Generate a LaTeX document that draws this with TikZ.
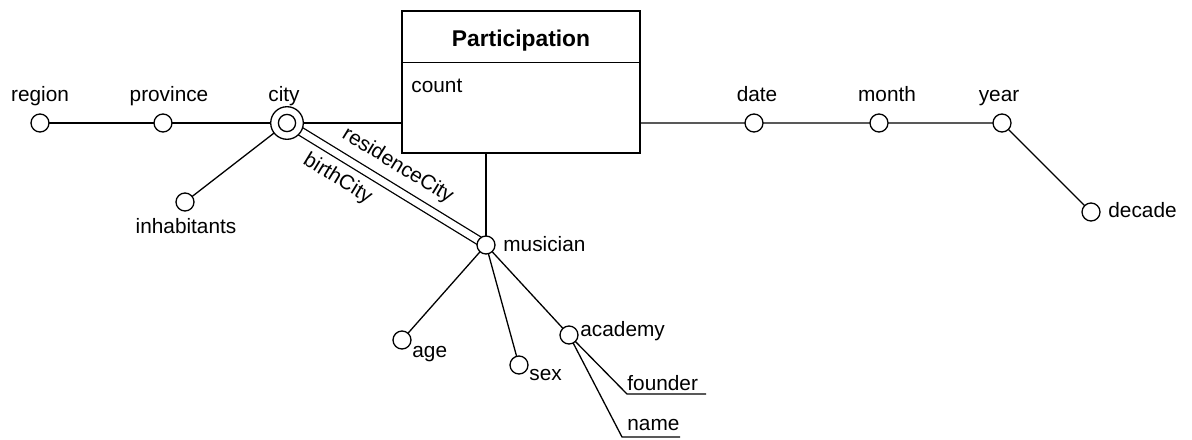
\documentclass[tikz,border=0pt]{standalone}
\usepackage{fontspec}
\setmainfont{Liberation Sans}
\usetikzlibrary{backgrounds,calc}
\tikzset{
  attr/.style={circle,draw,fill=white,line width=0.65pt,minimum size=9pt,inner sep=0pt},
  lbl/.style={inner sep=0pt,font=\fontsize{10.4}{12}\selectfont},
  edge/.style={line width=0.65pt},
}
\begin{document}
\begin{tikzpicture}[x=0.5pt,y=-0.5pt]
\useasboundingbox (0,0) rectangle (1192,439);
% fact box
\node[draw,line width=0.65pt,fill=white,minimum width=119pt,minimum height=71pt,inner sep=0pt] (box) at (521,82) {};
\node[lbl,anchor=base,font=\fontsize{11.4}{13}\selectfont\bfseries] (title) at (521,46) {Participation};
\draw[edge] ($(box.north west)+(0,52)$) coordinate (hl) -- (hl -| box.east);
\node[lbl,anchor=base west] (count) at (411,92) {count};
% attribute circles
\node[attr] (region) at (40,123) {};
\node[attr] (province) at (163,123) {};
\node[circle,draw,fill=white,line width=0.65pt,minimum size=16.3pt,inner sep=0pt] (city) at (287,123) {};
\node[circle,draw,line width=0.65pt,minimum size=8.6pt,inner sep=0pt] (cityin) at (287,123) {};
\node[attr] (inhab) at (185,202) {};
\node[attr] (musician) at (486,245) {};
\node[attr] (age) at (402,340) {};
\node[attr] (sex) at (519,365) {};
\node[attr] (academy) at (569,335) {};
\node[attr] (date) at (754,123) {};
\node[attr] (month) at (879,123) {};
\node[attr] (year) at (1002,123) {};
\node[attr] (decade) at (1091,212) {};
\coordinate (f1) at (627,394);
\coordinate (f2) at (706,394);
\coordinate (n1) at (622,437);
\coordinate (n2) at (680,437);
% labels
\node[lbl,anchor=base] (lregion) at (40,101) {region};
\node[lbl,anchor=base] (lprovince) at (169,101) {province};
\node[lbl,anchor=base] (lcity) at (284,101) {city};
\node[lbl,anchor=base] (linhab) at (186,233) {inhabitants};
\node[lbl,anchor=base west] (lmusician) at (503,251) {musician};
\node[lbl,anchor=base west] (lage) at (412,357) {age};
\node[lbl,anchor=base west] (lsex) at (529,380) {sex};
\node[lbl,anchor=base west] (lacademy) at (580,336) {academy};
\node[lbl,anchor=base west] (lfounder) at (627,390) {founder};
\node[lbl,anchor=base west] (lname) at (627,430) {name};
\node[lbl,anchor=base] (ldate) at (757,101) {date};
\node[lbl,anchor=base] (lmonth) at (887,101) {month};
\node[lbl,anchor=base] (lyear) at (999,101) {year};
\node[lbl,anchor=base west] (ldecade) at (1108,217) {decade};
% edges
\begin{pgfonlayer}{background}
\draw[edge] (region.center) -- (province.center) -- (city.center);
\draw[edge] (city.center) -- (city.center -| box.west);
\draw[edge] (city.center) -- (inhab.center);
\draw[edge] (box.east |- date.center) -- (date.center) -- (month.center) -- (year.center) -- (decade.center);
\draw[edge] (musician.center |- box.south) -- (musician.center);
\draw[line width=0.65pt,double=white,double distance=3.5pt] (city.center) -- (musician.center)
  node[lbl,sloped,above=5.5pt,pos=0.5] (lres) {residenceCity}
  node[lbl,sloped,below=5.5pt,pos=0.31] (lbirth) {birthCity};
\draw[edge] (musician.center) -- (age.center);
\draw[edge] (musician.center) -- (sex.center);
\draw[edge] (musician.center) -- (academy.center);
\draw[edge] (academy.center) -- (f1) -- (f2);
\draw[edge] (academy.center) -- (n1) -- (n2);
\end{pgfonlayer}
\end{tikzpicture}
\end{document}
